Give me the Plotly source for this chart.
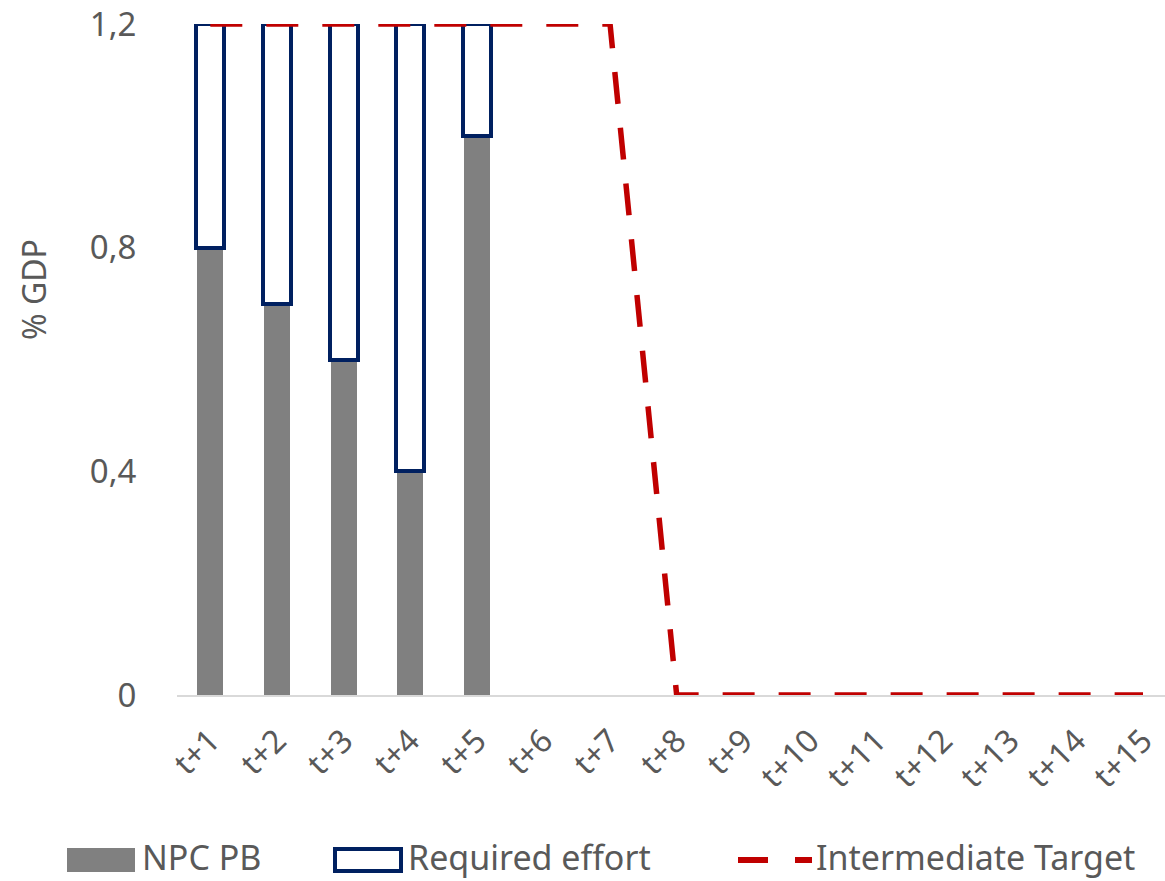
import plotly.graph_objects as go

categories = ["t+1", "t+2", "t+3", "t+4", "t+5", "t+6", "t+7", "t+8",
              "t+9", "t+10", "t+11", "t+12", "t+13", "t+14", "t+15"]
npc_pb = [0.8, 0.7, 0.6, 0.4, 1.0, None, None, None, None, None, None, None, None, None, None]
required_effort = [0.4, 0.5, 0.6, 0.8, 0.2, None, None, None, None, None, None, None, None, None, None]
intermediate_target = [1.2, 1.2, 1.2, 1.2, 1.2, 1.2, 1.2, 0, 0, 0, 0, 0, 0, 0, 0]
y_ticks = [0, 0.4, 0.8, 1.2]
y_tick_labels = ["0", "0,4", "0,8", "1,2"]
series_names = ["NPC PB", "Required effort", "Intermediate Target"]

FONT = "Noto Sans"
TXT = "#595959"
GRAY = "#808080"
NAVY = "#002060"
RED = "#C00000"

W, H = 1165, 881
ML, MR, MT, MB = 177, 0, 24, 186
PW, PH = W - ML - MR, H - MT - MB


def px(x):
    return (x - ML) / PW


def py(y):
    return (H - MB - y) / PH


fig = go.Figure()
fig.add_trace(go.Bar(
    x=categories, y=npc_pb, name=series_names[0], width=0.39,
    marker=dict(color=GRAY, line=dict(width=0)),
))
fig.add_trace(go.Bar(
    x=categories, y=required_effort, name=series_names[1], width=0.42,
    marker=dict(color="white", line=dict(color=NAVY, width=4)),
))
fig.add_trace(go.Scatter(
    x=categories, y=intermediate_target, name=series_names[2],
    mode="lines", line=dict(color=RED, width=5.5, dash="32px,24px"),
    cliponaxis=False,
))

# Legend drawn below the plot (swatches + labels)
leg_y = 860
text_y = 857
shapes = [
    dict(type="rect", xref="paper", yref="paper",
         x0=px(67), x1=px(135), y0=py(848), y1=py(872),
         fillcolor=GRAY, line=dict(width=0)),
    dict(type="rect", xref="paper", yref="paper",
         x0=px(335), x1=px(401), y0=py(849), y1=py(871),
         fillcolor="white", line=dict(color=NAVY, width=4)),
    dict(type="line", xref="paper", yref="paper",
         x0=px(738), x1=px(812), y0=py(leg_y), y1=py(leg_y),
         line=dict(color=RED, width=6, dash="30px,27px")),
]
annotations = [
    dict(text="% GDP", xref="paper", yref="paper",
         x=px(33), y=py(290), textangle=-90, showarrow=False,
         xanchor="center", yanchor="middle",
         font=dict(size=32, color=TXT, family=FONT)),
]
for name, x0 in zip(series_names, [141, 407, 815]):
    annotations.append(dict(
        text=name, xref="paper", yref="paper", x=px(x0), y=py(text_y),
        xanchor="left", yanchor="middle", showarrow=False, borderpad=0,
        font=dict(size=34, color=TXT, family=FONT)))

fig.update_layout(
    width=W, height=H,
    barmode="stack",
    plot_bgcolor="white", paper_bgcolor="white",
    margin=dict(l=ML, r=MR, t=MT, b=MB, autoexpand=False),
    font=dict(family=FONT, color=TXT, size=28),
    showlegend=False,
    shapes=shapes,
    annotations=annotations,
)
fig.update_xaxes(
    type="category", range=[-0.5, 14.33], automargin=False,
    showline=True, linecolor="#D9D9D9", linewidth=2,
    showgrid=False, zeroline=False,
    ticks="outside", ticklen=12, tickcolor="rgba(0,0,0,0)",
    tickangle=-45, tickfont=dict(size=32, color=TXT),
)
fig.update_yaxes(
    range=[0, 1.2], tickvals=y_ticks, ticktext=y_tick_labels, automargin=False,
    showgrid=False, zeroline=False, showline=False,
    ticks="outside", ticklen=33, tickcolor="rgba(0,0,0,0)",
    tickfont=dict(size=33, color=TXT),
)

fig.write_html(
    "out.html",
    config={"displayModeBar": False},
    post_script="document.body.style.margin='0';document.body.style.overflow='hidden';",
)
